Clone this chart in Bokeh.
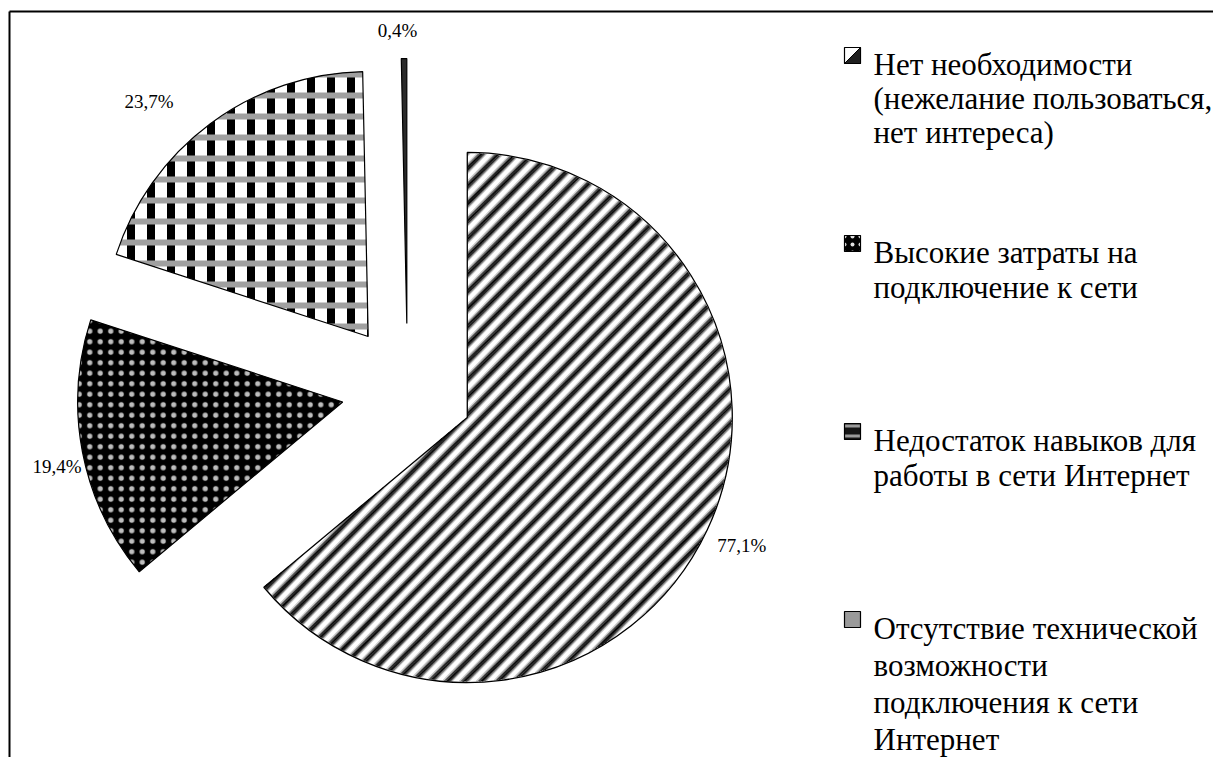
import math
import numpy as np
from bokeh.plotting import figure
from bokeh.models import Range1d
from bokeh.embed import file_html
from bokeh.resources import INLINE
from bokeh.core.properties import value

# ---------------- data ----------------
categories = [
    "Нет необходимости\n(нежелание пользоваться,\nнет интереса)",
    "Высокие затраты на\nподключение к сети",
    "Недостаток навыков для\nработы в сети Интернет",
    "Отсутствие технической\nвозможности\nподключения к сети\nИнтернет",
]
values = [77.1, 19.4, 23.7, 0.4]
labels = ["77,1%", "19,4%", "23,7%", "0,4%"]

# ---------------- layout / style ----------------
W, H = 1213, 757
FONT = "Liberation Serif"
CX, CY = 407, H - 389          # pie centre (data units = pixels, y up)
R = 265                        # pie radius
EXPLODE = 66                   # explosion distance of every slice
label_dist = [303, 293, 321, 293]
label_turn = [0.0, 1.9, 6.5, 1.2]

p = figure(width=W, height=H, output_backend="svg", toolbar_location=None,
           x_range=Range1d(0, W), y_range=Range1d(0, H),
           x_axis_location=None, y_axis_location=None, min_border=0,
           background_fill_color="white", border_fill_color="white")
p.grid.visible = False
p.outline_line_color = None

# frame lines (top and left parts of the surrounding box)
p.line(x=[9, W], y=[H - 11, H - 11], line_color="black", line_width=2)
p.line(x=[9, 9], y=[H - 11, 0], line_color="black", line_width=2)

total = sum(values)
start = 90.0
xs, ys, sa, ea, mids = [], [], [], [], []
for v in values:
    span = 360.0 * v / total
    end = start - span
    mid = start - span / 2
    xs.append(CX + EXPLODE * math.cos(math.radians(mid)))
    ys.append(CY + EXPLODE * math.sin(math.radians(mid)))
    sa.append(math.radians(end))
    ea.append(math.radians(start))
    mids.append(mid)
    start = end


def stripe_lines(ax, ay, r, th1, th2, angle_deg, period, offsets, colors, step=0.4):
    """Diagonal stripes clipped to the wedge (ax, ay, r, th1..th2 anticlockwise)."""
    a = math.radians(angle_deg)
    d = np.array([math.cos(a), math.sin(a)])
    n = np.array([-math.sin(a), math.cos(a)])
    u0 = ax * n[0] + ay * n[1]
    span = (th2 - th1) % (2 * math.pi)
    out_x, out_y, out_c = [], [], []
    k0 = math.floor((u0 - r) / period) - 1
    k1 = math.ceil((u0 + r) / period) + 1
    for k in range(k0, k1 + 1):
        for t, col in zip(offsets, colors):
            u = k * period + t - u0
            if abs(u) >= r:
                continue
            smax = math.sqrt(r * r - u * u)
            s = np.arange(-smax, smax + step, step)
            px = u * n[0] + s * d[0]
            py = u * n[1] + s * d[1]
            ang = np.arctan2(py, px)
            inside = ((ang - th1) % (2 * math.pi) <= span) & (px * px + py * py <= (r - 0.6) ** 2)
            idx = np.flatnonzero(inside)
            if idx.size < 2:
                continue
            breaks = np.flatnonzero(np.diff(idx) > 1)
            starts = np.concatenate([[idx[0]], idx[breaks + 1]])
            ends = np.concatenate([idx[breaks], [idx[-1]]])
            for s0, s1 in zip(starts, ends):
                if s1 - s0 < 1:
                    continue
                out_x.append([ax + px[s0], ax + px[s1]])
                out_y.append([ay + py[s0], ay + py[s1]])
                out_c.append(col)
    return out_x, out_y, out_c


# slice 1: white with soft black diagonal stripes
p.wedge(x=xs[0], y=ys[0], radius=R, start_angle=sa[0], end_angle=ea[0],
        fill_color="white", line_color=None)
sx, sy, sc = stripe_lines(xs[0], ys[0], R, sa[0], ea[0], 46, 12.2,
                          [-3.5, -2.5, -1.5, -0.5, 0.5, 1.5, 2.5, 3.5],
                          ["#c8c8c8", "#707070", "#202020", "#000000",
                           "#000000", "#202020", "#707070", "#c8c8c8"])
p.multi_line(xs=sx, ys=sy, line_color=sc, line_width=1.15)
p.wedge(x=xs[0], y=ys[0], radius=R, start_angle=sa[0], end_angle=ea[0],
        fill_color=None, line_color="black", line_width=1.3)

# slice 2: black with light dots
p.wedge(x=xs[1], y=ys[1], radius=R, start_angle=sa[1], end_angle=ea[1],
        fill_color="black", hatch_pattern=".", hatch_color="#bdbdbd", hatch_scale=10.5,
        hatch_weight=1.5, line_color="black", line_width=1.2)

# slice 3: checker (black columns crossed by grey bands)
p.wedge(x=xs[2], y=ys[2], radius=R, start_angle=sa[2], end_angle=ea[2],
        fill_color="white", hatch_pattern="|", hatch_color="black", hatch_scale=20,
        hatch_weight=8, line_color=None)
p.wedge(x=xs[2], y=ys[2], radius=R, start_angle=sa[2], end_angle=ea[2],
        fill_color=None, hatch_pattern="-", hatch_color="#a0a0a0", hatch_scale=21,
        hatch_weight=6, line_color="black", line_width=1.2)

# slice 4: thin dark slice
p.wedge(x=xs[3], y=ys[3], radius=R, start_angle=sa[3], end_angle=ea[3],
        fill_color="#2a2a2a", line_color="black", line_width=1.2)

# data labels
lx, ly = [], []
for i in range(len(values)):
    a = math.radians(mids[i] + label_turn[i])
    lx.append(xs[i] + label_dist[i] * math.cos(a))
    ly.append(ys[i] + label_dist[i] * math.sin(a))
p.text(x=lx, y=ly, text=labels, text_font=value(FONT), text_font_size="19px",
       text_align="center", text_baseline="middle", text_color="black")

# legend (drawn manually)
LEG_X = 852
MK = 16
TXT_X = 873
FIRST_BASE = 64
ITEM_STEP = 188
LINE_STEPS = [34, 35, 35, 37]
leg_styles = [
    dict(fill_color="white"),
    dict(fill_color="black", hatch_pattern=".", hatch_color="#e0e0e0", hatch_scale=8, hatch_weight=2),
    dict(fill_color="#151515", hatch_pattern="-", hatch_color="#9a9a9a", hatch_scale=10, hatch_weight=3),
    dict(fill_color="#9a9a9a"),
]
tx, ty, tt = [], [], []
for i, cat in enumerate(categories):
    base = FIRST_BASE + i * ITEM_STEP
    my = H - (base - 9)
    p.rect(x=LEG_X, y=my, width=MK, height=MK,
           line_color="black", line_width=1.2, **leg_styles[i])
    if i == 0:
        h = MK / 2
        p.patch(x=[LEG_X + h, LEG_X + h, LEG_X - h], y=[my + h, my - h, my - h],
                fill_color="#202020", line_color="black", line_width=1)
    for j, line in enumerate(cat.split("\n")):
        tx.append(TXT_X)
        ty.append(H - (base + j * LINE_STEPS[i]))
        tt.append(line)
p.text(x=tx, y=ty, text=tt, text_font=value(FONT), text_font_size="31px",
       text_align="left", text_baseline="alphabetic", text_color="black")

open("out.html", "w").write(file_html(p, INLINE))
